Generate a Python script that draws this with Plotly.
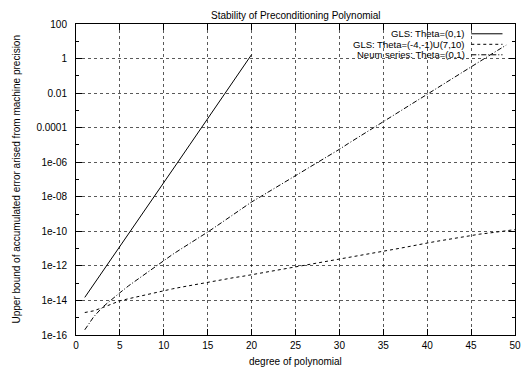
import plotly.graph_objects as go

# Polynomial degrees for each run
deg_gls01 = list(range(1, 21))
deg_gls_split = list(range(1, 51))
deg_neum = list(range(1, 50))

# Accumulated error bounds
err_gls01 = [1.5e-14, 8.1e-14, 4.5e-13, 2.5e-12, 1.35e-11, 7.4e-11, 4.1e-10, 2.2e-9,
             1.2e-8, 6.8e-8, 3.7e-7, 2.0e-6, 1.1e-5, 6.2e-5, 3.4e-4, 1.9e-3,
             1.0e-2, 5.6e-2, 0.31, 1.7]

err_gls_split = [2.0e-15, 2.5e-15, 3.8e-15, 6.3e-15, 9.5e-15, 1.26e-14, 1.66e-14, 2.2e-14,
                 2.9e-14, 3.7e-14, 4.7e-14, 5.9e-14, 7.4e-14, 9.3e-14, 1.15e-13, 1.4e-13,
                 1.7e-13, 2.1e-13, 2.5e-13, 3.1e-13, 3.8e-13, 4.7e-13, 5.8e-13, 7.1e-13,
                 8.7e-13, 1.07e-12, 1.3e-12, 1.66e-12, 2.0e-12, 2.5e-12, 3.1e-12, 3.8e-12,
                 4.7e-12, 5.8e-12, 7.1e-12, 8.7e-12, 1.07e-11, 1.3e-11, 1.6e-11, 2.1e-11,
                 2.6e-11, 3.2e-11, 3.9e-11, 4.8e-11, 5.9e-11, 6.9e-11, 7.9e-11, 9.3e-11,
                 1.07e-10, 1.26e-10]

err_neum = [2.0e-16, 1.1e-15, 4.0e-15, 1.1e-14, 2.8e-14, 7.1e-14, 1.66e-13, 4.0e-13,
            9.3e-13, 2.1e-12, 4.6e-12, 9.8e-12, 2.0e-11, 4.4e-11, 9.1e-11, 2.0e-10,
            4.5e-10, 1.0e-9, 2.2e-9, 5.0e-9, 1.0e-8, 2.0e-8, 4.0e-8, 7.9e-8,
            1.6e-7, 3.3e-7, 6.8e-7, 1.4e-6, 2.8e-6, 5.6e-6, 1.2e-5, 2.5e-5,
            5.1e-5, 1.07e-4, 2.2e-4, 4.7e-4, 9.8e-4, 2.0e-3, 4.4e-3, 9.3e-3,
            1.9e-2, 4.0e-2, 8.1e-2, 0.17, 0.35, 0.71, 1.45, 2.95, 6.0]

series_names = ["GLS: Theta=(0,1)", "GLS: Theta=(-4,-1)U(7,10)", "Neum series: Theta=(0,1)"]

# Axis ticks
x_ticks = list(range(0, 51, 5))
y_ticks = [1e2, 1, 1e-2, 1e-4, 1e-6, 1e-8, 1e-10, 1e-12, 1e-14, 1e-16]
y_ticktext = ["100", "1", "0.01", "0.0001", "1e-06", "1e-08", "1e-10", "1e-12", "1e-14", "1e-16"]
y_minor = [1e1, 1e-1, 1e-3, 1e-5, 1e-7, 1e-9, 1e-11, 1e-13, 1e-15]

FONT = "Liberation Sans, Arial, Helvetica, sans-serif"
dashes = ["solid", "3px,3px", "5px,2px,1px,2px"]

fig = go.Figure()
for xs, ys, name, dash in zip([deg_gls01, deg_gls_split, deg_neum],
                              [err_gls01, err_gls_split, err_neum],
                              series_names, dashes):
    fig.add_trace(go.Scatter(x=xs, y=ys, mode="lines", name=name,
                             line=dict(color="black", width=1, dash=dash),
                             showlegend=False))

# Key: text right-aligned with the line sample on its right
key_rows_y = [0.9685, 0.9347, 0.9010]
shapes = [dict(type="rect", xref="paper", yref="paper", x0=0.607, x1=1.0, y0=0.878, y1=1.0,
               fillcolor="white", line=dict(width=0), layer="between")]
annotations = []
for name, dash, yy in zip(series_names, dashes, key_rows_y):
    annotations.append(dict(text=name, xref="paper", yref="paper", x=0.8892, y=yy,
                            xanchor="right", yanchor="middle", showarrow=False,
                            borderpad=0,
                            font=dict(family=FONT, size=9.5, color="black")))
    shapes.append(dict(type="line", xref="paper", yref="paper", x0=0.9004, x1=0.9715,
                       y0=yy, y1=yy, line=dict(color="black", width=1, dash=dash),
                       layer="above"))

# Title and axis titles
annotations += [
    dict(text="Stability of Preconditioning Polynomial", xref="paper", yref="paper",
         x=0.5, y=1.0, yshift=9, xanchor="center", yanchor="middle", showarrow=False,
         font=dict(family=FONT, size=10, color="black")),
    dict(text="degree of polynomial", xref="paper", yref="paper",
         x=0.5, y=0, yshift=-26, xanchor="center", yanchor="middle", showarrow=False,
         font=dict(family=FONT, size=10, color="black")),
    dict(text="Upper bound of accumulated error arised from machine precision",
         xref="paper", yref="paper", x=0, y=0.5, xshift=-60, textangle=-90,
         xanchor="center", yanchor="middle", showarrow=False,
         font=dict(family=FONT, size=10, color="black")),
]

grid_style = dict(showgrid=True, gridcolor="rgba(0,0,0,0.65)", griddash="dot", gridwidth=1)

fig.update_layout(
    width=524, height=375,
    margin=dict(l=76, r=3, t=24, b=40),
    paper_bgcolor="white", plot_bgcolor="white",
    font=dict(family=FONT, size=10, color="black"),
    shapes=shapes, annotations=annotations,
    xaxis=dict(range=[0, 50], tickvals=x_ticks, ticks="inside", ticklen=6,
               tickcolor="black", showline=True, linecolor="black", linewidth=1,
               mirror="allticks", zeroline=False, ticklabelstandoff=1,
               ticklabeloverflow="allow",
               tickfont=dict(family=FONT, size=10), **grid_style),
    yaxis=dict(type="log", range=[-16, 2], tickvals=y_ticks, ticktext=y_ticktext,
               ticks="inside", ticklen=6, tickcolor="black", showline=True,
               linecolor="black", linewidth=1, mirror="allticks", zeroline=False,
               ticklabelstandoff=6, tickfont=dict(family=FONT, size=10),
               minor=dict(tickvals=y_minor, ticks="inside", ticklen=3,
                          tickcolor="black", showgrid=False),
               **grid_style),
)

fig.write_html("out.html")
